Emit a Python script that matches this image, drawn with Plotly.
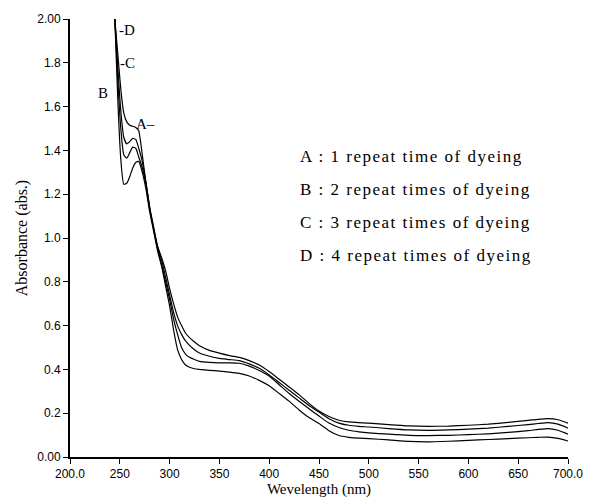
import plotly.graph_objects as go

# Wavelength grid (nm)
wavelength = [245, 248, 251, 254, 257, 260, 263, 266, 269, 272, 276, 280, 284, 288, 292, 296,
              300, 304, 308, 312, 316, 320, 325, 330, 340, 350, 360, 370, 380, 390, 400, 410,
              420, 430, 440, 450, 460, 470, 480, 490, 500, 520, 540, 560, 580, 600, 620, 640,
              660, 670, 680, 690, 700]

# Absorbance for each curve
curve_a = [2.00, 1.84, 1.68, 1.57, 1.53, 1.515, 1.51, 1.505, 1.49, 1.40, 1.26, 1.14, 1.04, 0.96, 0.91, 0.85,
           0.77, 0.70, 0.64, 0.60, 0.565, 0.545, 0.525, 0.508, 0.487, 0.474, 0.463, 0.455, 0.44, 0.42, 0.39, 0.355,
           0.32, 0.285, 0.245, 0.21, 0.185, 0.168, 0.16, 0.157, 0.155, 0.148, 0.142, 0.14, 0.141, 0.145, 0.15, 0.158,
           0.167, 0.172, 0.175, 0.17, 0.155]
curve_b = [2.00, 1.78, 1.58, 1.46, 1.43, 1.44, 1.455, 1.45, 1.41, 1.36, 1.26, 1.14, 1.05, 0.96, 0.90, 0.82,
           0.74, 0.66, 0.60, 0.56, 0.53, 0.51, 0.49, 0.475, 0.46, 0.45, 0.445, 0.44, 0.425, 0.405, 0.375, 0.34,
           0.305, 0.27, 0.235, 0.205, 0.175, 0.155, 0.145, 0.14, 0.137, 0.13, 0.124, 0.122, 0.124, 0.127, 0.132, 0.14,
           0.148, 0.153, 0.157, 0.15, 0.132]
curve_c = [2.00, 1.72, 1.50, 1.38, 1.365, 1.39, 1.415, 1.41, 1.37, 1.33, 1.25, 1.13, 1.04, 0.95, 0.88, 0.80,
           0.72, 0.63, 0.56, 0.50, 0.47, 0.455, 0.445, 0.437, 0.432, 0.43, 0.43, 0.428, 0.415, 0.395, 0.37, 0.33,
           0.29, 0.255, 0.22, 0.187, 0.155, 0.135, 0.122, 0.115, 0.11, 0.104, 0.099, 0.098, 0.099, 0.102, 0.106, 0.112,
           0.12, 0.126, 0.13, 0.122, 0.104]
curve_d = [2.00, 1.63, 1.36, 1.245, 1.25, 1.28, 1.32, 1.345, 1.35, 1.31, 1.23, 1.12, 1.03, 0.94, 0.87, 0.78,
           0.69, 0.58, 0.49, 0.445, 0.42, 0.41, 0.403, 0.40, 0.396, 0.392, 0.388, 0.382, 0.37, 0.35, 0.325, 0.29,
           0.255, 0.215, 0.18, 0.153, 0.12, 0.098, 0.09, 0.086, 0.084, 0.078, 0.071, 0.069, 0.072, 0.076, 0.08, 0.084,
           0.088, 0.09, 0.091, 0.085, 0.073]

x_tickvals = [200, 250, 300, 350, 400, 450, 500, 550, 600, 650, 700]
x_ticktext = ["200.0", "250", "300", "350", "400", "450", "500", "550", "600", "650", "700.0"]
y_tickvals = [0, 0.2, 0.4, 0.6, 0.8, 1.0, 1.2, 1.4, 1.6, 1.8, 2.0]
y_ticktext = ["0.00", "0.2", "0.4", "0.6", "0.8", "1.0", "1.2", "1.4", "1.6", "1.8", "2.00"]

legend_lines = ["A : 1 repeat time of dyeing",
                "B : 2 repeat times of dyeing",
                "C : 3 repeat times of dyeing",
                "D : 4 repeat times of dyeing"]
legend_y = [1.37, 1.223, 1.072, 0.921]

curve_labels = ["-D", "-C", "B", "A–"]
label_x = [247.5, 248.0, 240.5, 264.5]
label_y = [1.95, 1.80, 1.66, 1.52]
label_anchor = ["left", "left", "right", "left"]

serif = "Liberation Serif, Times New Roman, serif"
sans = "Liberation Sans, Arial, sans-serif"

fig = go.Figure()
for ys in [curve_a, curve_b, curve_c, curve_d]:
    fig.add_trace(go.Scatter(x=wavelength, y=ys, mode="lines",
                             line=dict(color="black", width=1.2, shape="spline", smoothing=0.5),
                             showlegend=False, hoverinfo="skip"))

for t, xx, yy, anc in zip(curve_labels, label_x, label_y, label_anchor):
    fig.add_annotation(x=xx, y=yy, text=t, showarrow=False, xanchor=anc, yanchor="middle",
                       font=dict(family=serif, size=15, color="black"))

for t, yy in zip(legend_lines, legend_y):
    fig.add_annotation(x=429, y=yy, text='<span style="letter-spacing:1.5px">' + t + '</span>',
                       showarrow=False, xanchor="left", yanchor="middle",
                       font=dict(family=serif, size=17, color="black"))

# the page body adds an 8px offset, so margins are shifted accordingly
fig.update_layout(
    width=594, height=501,
    margin=dict(l=62, r=34, t=11, b=52),
    paper_bgcolor="white", plot_bgcolor="white",
    xaxis=dict(range=[200, 700], tickvals=x_tickvals, ticktext=x_ticktext,
               showgrid=False, zeroline=False, showline=True, linecolor="black", linewidth=1.5,
               ticks="outside", ticklen=5, tickwidth=1.2, tickcolor="black",
               tickfont=dict(family=sans, size=12, color="black"),
               title=dict(text="Wevelength (nm)", font=dict(family=serif, size=15, color="black"), standoff=2),
               automargin=False),
    yaxis=dict(range=[0, 2.0], tickvals=y_tickvals, ticktext=y_ticktext,
               showgrid=False, zeroline=False, showline=True, linecolor="black", linewidth=2,
               ticks="outside", ticklen=5, tickwidth=1.2, tickcolor="black",
               tickfont=dict(family=sans, size=12, color="black"),
               title=dict(text="Absorbance (abs.)", font=dict(family=serif, size=16, color="black"), standoff=6),
               automargin=False),
)

fig.write_html("out.html")
